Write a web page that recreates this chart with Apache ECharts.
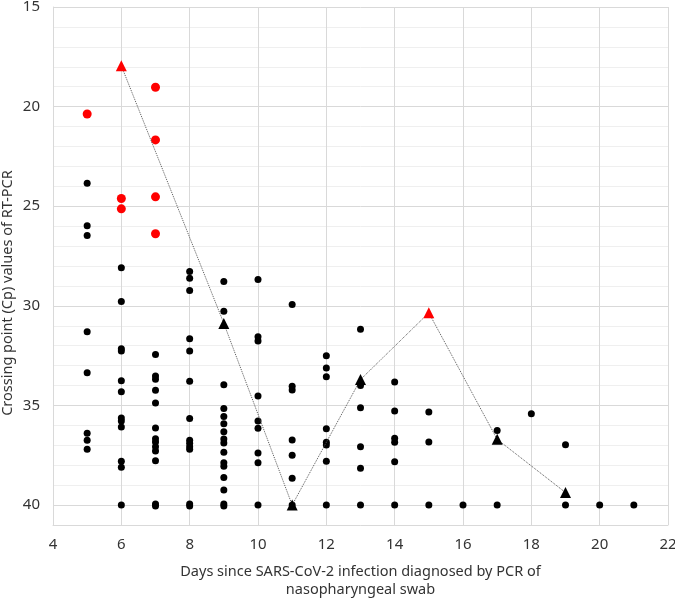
<!DOCTYPE html>
<html>
<head>
<meta charset="utf-8">
<script src="https://cdn.jsdelivr.net/npm/echarts@6/dist/echarts.min.js"></script>
<style>
  html, body { margin: 0; padding: 0; background: #fff; }
  #chart { width: 675px; height: 599px; }
</style>
</head>
<body>
<div id="chart"></div>
<script>
// Cp values, [day, Cp]
const blackPoints = [
  [5, 23.85], [5, 25.98], [5, 26.47], [5, 31.3], [5, 33.36], [5, 36.4], [5, 36.75], [5, 37.2],
  [6, 28.09], [6, 29.78], [6, 32.15], [6, 32.27], [6, 33.76], [6, 34.31], [6, 35.63], [6, 35.78],
  [6, 36.08], [6, 37.8], [6, 38.1], [6, 40],
  [7, 32.44], [7, 33.52], [7, 33.69], [7, 34.24], [7, 34.88], [7, 36.13], [7, 36.67], [7, 36.84],
  [7, 37.07], [7, 37.29], [7, 37.77], [7, 39.95], [7, 40.05],
  [8, 28.28], [8, 28.61], [8, 29.23], [8, 31.65], [8, 32.27], [8, 33.79], [8, 35.66], [8, 36.75],
  [8, 36.9], [8, 37.07], [8, 37.2], [8, 39.95], [8, 40.05],
  [9, 28.78], [9, 30.27], [9, 33.96], [9, 35.15], [9, 35.55], [9, 35.92], [9, 36.32], [9, 36.68],
  [9, 36.89], [9, 37.35], [9, 37.87], [9, 38.05], [9, 38.62], [9, 39.24], [9, 39.95], [9, 40.05],
  [10, 28.68], [10, 31.55], [10, 31.77], [10, 34.53], [10, 35.78], [10, 36.15], [10, 37.39], [10, 37.87], [10, 40],
  [11, 29.93], [11, 34.03], [11, 34.23], [11, 36.73], [11, 37.5], [11, 38.65], [11, 40],
  [12, 32.5], [12, 33.12], [12, 33.56], [12, 36.17], [12, 36.85], [12, 36.99], [12, 37.8], [12, 40],
  [13, 31.18], [13, 34.0], [13, 35.12], [13, 37.07], [13, 38.15], [13, 40],
  [14, 33.82], [14, 35.28], [14, 36.65], [14, 36.85], [14, 37.82], [14, 40],
  [15, 35.33], [15, 36.83], [15, 40],
  [16, 40],
  [17, 36.26], [17, 40],
  [18, 35.41],
  [19, 36.97], [19, 40],
  [20, 40],
  [21, 40]
];

const redPoints = [
  [5, 20.37],
  [6, 24.61], [6, 25.13],
  [7, 19.03], [7, 21.67], [7, 24.53], [7, 26.38]
];

const triangleDays = [6, 9, 11, 13, 15, 17, 19];
const triangleCp = [17.95, 30.88, 40, 33.7, 30.35, 36.7, 39.37];
const triangleRed = [true, false, false, false, true, false, false];

const FONT = '"Noto Sans", sans-serif';
const majorGrid = '#d9d9d9';
const minorGrid = '#efefef';

const chart = echarts.init(document.getElementById('chart'));

chart.setOption({
  animation: false,
  textStyle: { fontFamily: FONT },
  grid: { left: 53, right: 7, top: 7, bottom: 74, containLabel: false, outerBoundsMode: 'none' },
  xAxis: {
    type: 'value',
    min: 4,
    max: 22,
    interval: 2,
    axisLine: { show: true, lineStyle: { color: majorGrid } },
    axisTick: { show: false },
    axisLabel: { color: '#333', fontSize: 15, margin: 12, fontFamily: FONT },
    splitLine: { show: true, lineStyle: { color: majorGrid, width: 1 } },
    name: 'Days since SARS-CoV-2 infection diagnosed by PCR of\nnasopharyngeal swab',
    nameLocation: 'middle',
    nameGap: 38,
    nameTextStyle: { color: '#333', fontSize: 14.5, lineHeight: 18, fontFamily: FONT, verticalAlign: 'top' }
  },
  yAxis: {
    type: 'value',
    inverse: true,
    min: 15,
    max: 41,
    interval: 1,
    axisLine: { show: true, lineStyle: { color: majorGrid } },
    axisTick: { show: false },
    axisLabel: {
      color: '#333',
      fontSize: 15,
      margin: 13,
      fontFamily: FONT,
      formatter: (v) => (v % 5 === 0 ? String(v) : '')
    },
    splitLine: {
      show: true,
      lineStyle: { color: [majorGrid, minorGrid, minorGrid, minorGrid, minorGrid], width: 1 }
    }
  },
  graphic: [
    {
      type: 'text',
      x: 8,
      y: 293,
      rotation: Math.PI / 2,
      style: {
        text: 'Crossing point (Cp) values of RT-PCR',
        fill: '#333',
        font: '14.5px ' + FONT,
        textAlign: 'center',
        textVerticalAlign: 'middle'
      }
    }
  ],
  series: [
    {
      name: 'Cp',
      type: 'scatter',
      symbol: 'circle',
      symbolSize: 7,
      itemStyle: { color: '#000', opacity: 1 },
      data: blackPoints,
      z: 3
    },
    {
      name: 'Cp (red)',
      type: 'scatter',
      symbol: 'circle',
      symbolSize: 9,
      itemStyle: { color: '#ff0000', opacity: 1 },
      data: redPoints,
      z: 3
    },
    {
      name: 'Trend',
      type: 'line',
      symbol: 'triangle',
      symbolSize: 11,
      showAllSymbol: true,
      lineStyle: { color: '#555', width: 1, type: 'dotted' },
      itemStyle: { color: '#000' },
      data: triangleDays.map((d, i) => ({
        value: [d, triangleCp[i]],
        itemStyle: { color: triangleRed[i] ? '#ff0000' : '#000' }
      })),
      z: 4
    }
  ]
});
</script>
</body>
</html>
